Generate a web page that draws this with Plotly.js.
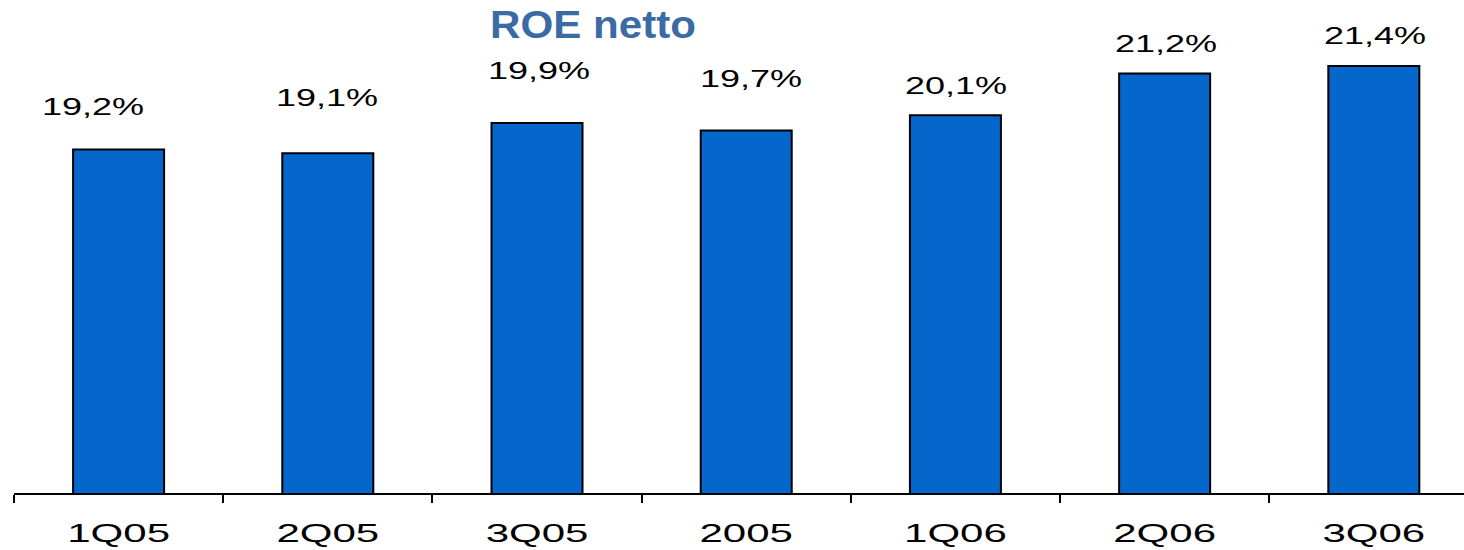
<!DOCTYPE html>
<html>
<head>
<meta charset="utf-8">
<script src="https://cdn.plot.ly/plotly-3.0.1.min.js"></script>
<style>
  html, body { margin: 0; padding: 0; background: #ffffff; }
  #chart { width: 1464px; height: 550px; }
</style>
</head>
<body>
<div id="chart"></div>
<script>
// ---- data ----
const categories = ["1Q05", "2Q05", "3Q05", "2005", "1Q06", "2Q06", "3Q06"];
const roeValues = [19.2, 19.1, 19.9, 19.7, 20.1, 21.2, 21.4];
const roeLabels = ["19,2%", "19,1%", "19,9%", "19,7%", "20,1%", "21,2%", "21,4%"];
const chartTitle = "ROE netto";

// ---- label placement (pixel offsets from bar top) ----
const labelYShift = [43, 56, 52, 52, 30, 30, 30];
const labelXShift = [-26, -1, 2, 5, 1, 1, 1];

const trace = {
  type: "bar",
  x: categories,
  y: roeValues,
  width: 0.435,
  marker: { color: "#0566cc", line: { color: "#000000", width: 2 } },
  hoverinfo: "none"
};

const annotations = categories.map((c, i) => ({
  x: i,
  y: roeValues[i],
  xref: "x",
  yref: "y",
  text: roeLabels[i],
  showarrow: false,
  xanchor: "center",
  yanchor: "middle",
  yshift: labelYShift[i],
  xshift: labelXShift[i],
  font: { family: "Liberation Sans, Arial, sans-serif", size: 24, color: "#000000" }
}));

const layout = {
  width: 1464,
  height: 550,
  margin: { l: 14, r: 0, t: 0, b: 57, pad: 0 },
  paper_bgcolor: "#ffffff",
  plot_bgcolor: "#ffffff",
  showlegend: false,
  title: {
    text: "<b>" + chartTitle + "</b>",
    font: { family: "Liberation Sans, Arial, sans-serif", size: 39, color: "#3b6ba5" },
    x: 593 / 1464,
    xref: "container",
    xanchor: "center",
    y: 1 - 24 / 550,
    yref: "container",
    yanchor: "middle"
  },
  xaxis: {
    type: "category",
    range: [-0.5, 6.431],
    showgrid: false,
    zeroline: false,
    showline: true,
    linecolor: "#000000",
    linewidth: 2,
    ticks: "outside",
    tickson: "boundaries",
    ticklen: 8,
    tickwidth: 2,
    tickcolor: "#000000",
    ticklabelstandoff: 17,
    tickfont: { family: "Liberation Sans, Arial, sans-serif", size: 25, color: "#000000" },
    fixedrange: true
  },
  yaxis: {
    range: [10.16, 10.16 + 493 / 38],
    visible: false,
    showgrid: false,
    zeroline: false,
    fixedrange: true
  },
  annotations: annotations
};

// Widen text horizontally, as in the reference (stretched Arial-like glyphs)
function stretchText(selector, factor) {
  document.querySelectorAll(selector).forEach(function (t) {
    const w = t.getComputedTextLength();
    t.setAttribute("textLength", (w * factor).toFixed(1));
    t.setAttribute("lengthAdjust", "spacingAndGlyphs");
  });
}

Plotly.newPlot("chart", [trace], layout, { staticPlot: true, displayModeBar: false }).then(function () {
  stretchText("#chart .xtick text", 1.68);
  stretchText("#chart .annotation-text", 1.5);
  stretchText("#chart .gtitle", 1.08);
});
</script>
</body>
</html>
